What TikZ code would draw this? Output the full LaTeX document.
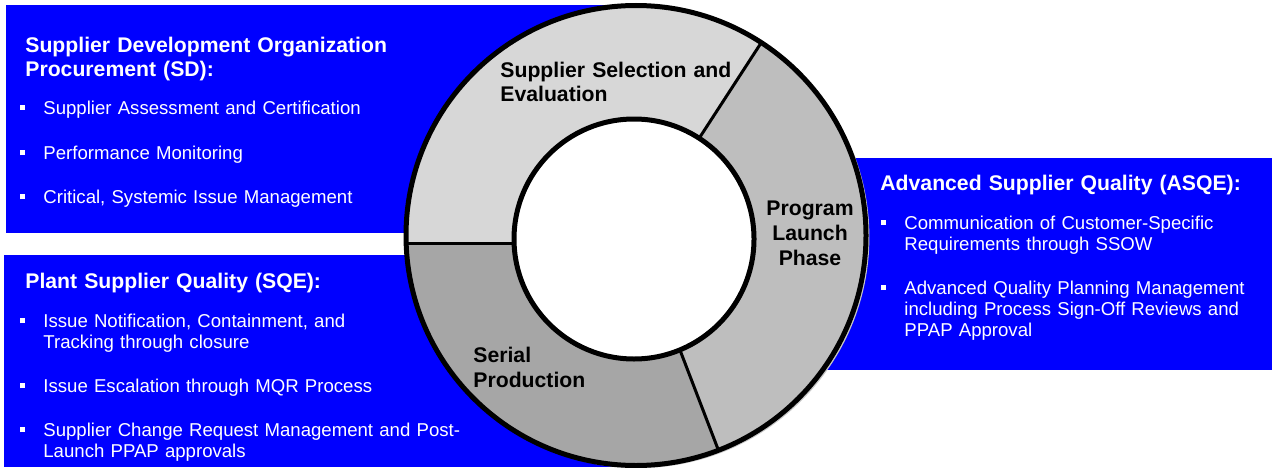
\documentclass[tikz,border=0pt]{standalone}
\usepackage{fontspec}
\setmainfont{Liberation Sans}
\usetikzlibrary{positioning,calc}

\definecolor{panelblue}{RGB}{0,0,255}
\definecolor{ringlight}{RGB}{215,215,215}
\definecolor{ringmid}{RGB}{190,190,190}
\definecolor{ringdark}{RGB}{166,166,166}
\newcommand{\sqbul}{\llap{\rule[2pt]{2.5pt}{2.5pt}\hspace{9pt}}}

\begin{document}
\begin{tikzpicture}[x=0.5pt,y=0.5pt,
    panel/.style={fill=panelblue},
    head/.style={anchor=base west, inner sep=0pt, text=white, text width=260pt, align=left,
      font=\bfseries\fontsize{10.6}{12}\selectfont},
    item/.style={anchor=base west, inner sep=0pt, text=white, text width=240pt, align=left,
      font=\fontsize{9.3}{10.5}\selectfont},
    phase/.style={inner sep=0pt, text width=130pt, align=left,
      font=\bfseries\fontsize{10.6}{12.5}\selectfont}]
\useasboundingbox (0,0) rectangle (1272,467);

% blue panels behind the ring
\fill[panel] (6,234) rectangle (610,462);
\fill[panel] (4,0) rectangle (650,212);
\fill[panel] (800,97) rectangle (1272,309);

% the ring
\coordinate (c) at (636,231.5);
\coordinate (ci) at (634,228);
\coordinate (sa) at ($(c)+(182:230)$);
\fill[black!22] ([xshift=1.2pt,yshift=-0.8pt]c) circle[radius=231];
\fill[ringlight] (c) -- ++(57:230) arc[start angle=57, end angle=182, radius=230] -- (c |- sa) -- cycle;
\fill[ringdark] (sa) arc[start angle=182, end angle=291, radius=230] -- (c) -- (c |- sa) -- cycle;
\fill[ringmid] (c) -- ++(291:230) arc[start angle=291, end angle=417, radius=230] -- cycle;
\draw[line width=1.5pt] (c) -- ++(57:230);
\draw[line width=1.5pt] (sa) -- (c |- sa);
\draw[line width=1.5pt] (c) -- ++(291:230);
\fill[white] (ci) circle[radius=120];
\draw[line width=2.5pt] (ci) circle[radius=120];
\draw[line width=2.5pt] (c) circle[radius=230];

% ring labels
\node[phase, anchor=base west] (select) at (500,390) {Supplier Selection and\\Evaluation};
\node[phase, anchor=base, text width=60pt, align=center] (launch) at (810,252) {Program\\Launch\\Phase};
\node[phase, anchor=base west] (serial) at (473,105) {Serial\\Production};

% Supplier Development
\node[head] (sd) at (25,415) {Supplier Development Organization\\Procurement (SD):};
\node[item] (sd1) at (43,353) {\sqbul Supplier Assessment and Certification};
\node[item] (sd2) at (43,308) {\sqbul Performance Monitoring};
\node[item] (sd3) at (43,264) {\sqbul Critical, Systemic Issue Management};

% Plant Supplier Quality
\node[head] (sqe) at (25,179) {Plant Supplier Quality (SQE):};
\node[item] (sqe1) at (43,140) {\sqbul Issue Notification, Containment, and\\Tracking through closure};
\node[item] (sqe2) at (43,75) {\sqbul Issue Escalation through MQR Process};
\node[item] (sqe3) at (43,31) {\sqbul Supplier Change Request Management and Post-\\Launch PPAP approvals};

% Advanced Supplier Quality
\node[head] (asqe) at (880,277) {Advanced Supplier Quality (ASQE):};
\node[item] (asqe1) at (904,238) {\sqbul Communication of Customer-Specific\\Requirements through SSOW};
\node[item] (asqe2) at (904,173) {\sqbul Advanced Quality Planning Management\\including Process Sign-Off Reviews and\\PPAP Approval};
\end{tikzpicture}
\end{document}
